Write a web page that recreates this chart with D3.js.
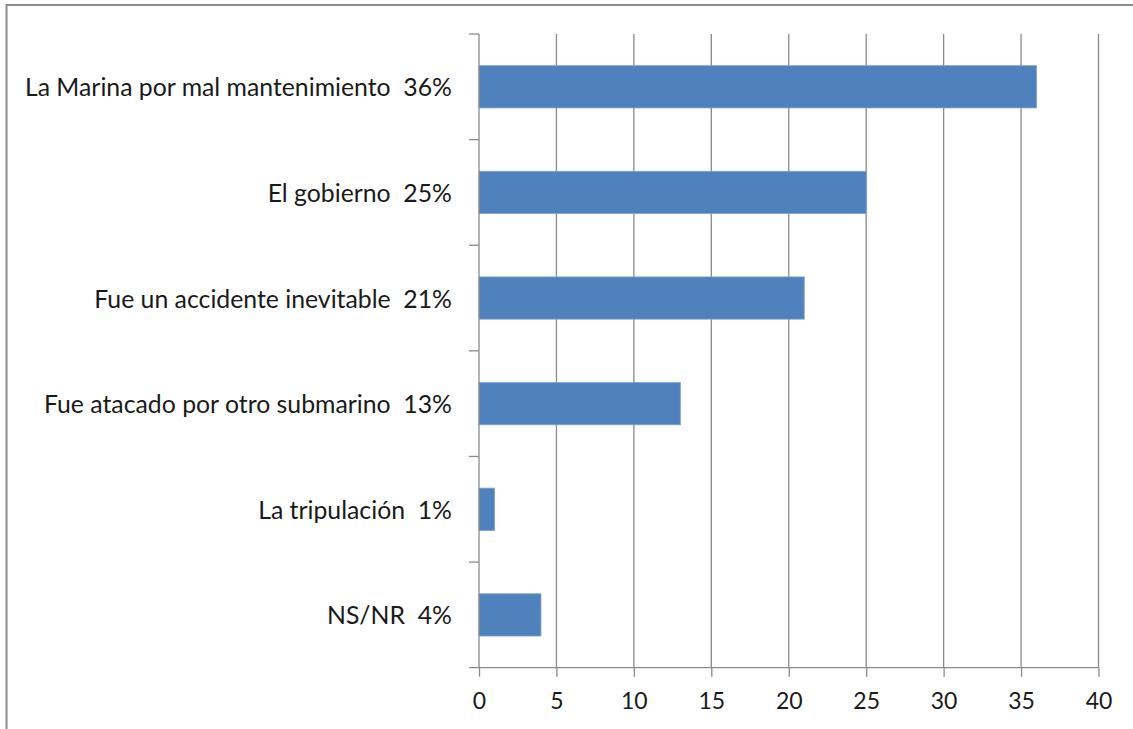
<!DOCTYPE html>
<html><head><meta charset="utf-8">
<script src="https://cdn.jsdelivr.net/npm/d3@7"></script>
<style>
html,body{margin:0;padding:0;background:#fff;}
svg{display:block;}
</style></head>
<body>
<svg id="chart" width="1133" height="729"></svg>
<script>
const categories = ["La Marina por mal mantenimiento  36%", "El gobierno  25%", "Fue un accidente inevitable  21%", "Fue atacado por otro submarino  13%", "La tripulación  1%", "NS/NR  4%"];
const values = [36, 25, 21, 13, 1, 4];
const xTicks = [0, 5, 10, 15, 20, 25, 30, 35, 40];

const svg = d3.select("#chart");
const W = 1133, H = 729;
const m = {left: 479, right: 34.5, top: 34, bottom: 61.3};
const font = "Lato, 'Open Sans', sans-serif";

// outer frame
svg.append("rect").attr("x", 6.5).attr("y", 5).attr("width", 1140).attr("height", 740)
  .attr("fill", "#fff").attr("stroke", "#8c8c8c").attr("stroke-width", 2);

const x = d3.scaleLinear().domain([0, 40]).range([m.left, W - m.right]);
const y = d3.scaleBand().domain(categories).range([m.top, H - m.bottom]).paddingInner(0.6).paddingOuter(0.3);
const yEdges = d3.scaleLinear().domain([0, categories.length]).range([m.top, H - m.bottom]);

// gridlines
svg.append("g").selectAll("line").data(xTicks.slice(1)).join("line")
  .attr("x1", d => x(d)).attr("x2", d => x(d))
  .attr("y1", m.top).attr("y2", H - m.bottom)
  .attr("stroke", "#8a8a8a").attr("stroke-width", 1.3);

// bars
svg.append("g").selectAll("rect").data(values).join("rect")
  .attr("x", x(0)).attr("y", (d, i) => y(categories[i]))
  .attr("width", d => x(d) - x(0)).attr("height", y.bandwidth())
  .attr("fill", "#4f81bd").attr("stroke", "#7ea2cf").attr("stroke-width", 0.8);

// x axis
const xAxis = d3.axisBottom(x).tickValues(xTicks).tickSize(9).tickSizeOuter(0).tickPadding(16);
const gx = svg.append("g").attr("transform", `translate(0,${H - m.bottom})`).call(xAxis);
gx.select(".domain").remove();
gx.append("line").attr("x1", m.left - 10).attr("x2", x(40)).attr("y1", 0).attr("y2", 0)
  .attr("stroke", "#8a8a8a").attr("stroke-width", 1.3);
gx.selectAll(".tick line").attr("stroke", "#8a8a8a").attr("stroke-width", 1.3);
gx.selectAll(".tick text").attr("font-family", font).attr("font-size", 23).attr("fill", "#1a1a1a");

// y axis line and ticks at band edges
svg.append("line").attr("x1", m.left).attr("x2", m.left).attr("y1", m.top).attr("y2", H - m.bottom)
  .attr("stroke", "#8a8a8a").attr("stroke-width", 1.3);
svg.append("g").selectAll("line").data(d3.range(categories.length)).join("line")
  .attr("x1", m.left - 10).attr("x2", m.left)
  .attr("y1", d => yEdges(d)).attr("y2", d => yEdges(d))
  .attr("stroke", "#8a8a8a").attr("stroke-width", 1.3);

// category labels
svg.append("g").selectAll("text").data(categories).join("text")
  .attr("x", 452).attr("y", d => y(d) + y.bandwidth() / 2)
  .attr("text-anchor", "end").attr("dominant-baseline", "central")
  .attr("font-family", font).attr("font-size", 24.8).attr("fill", "#1a1a1a")
  .style("white-space", "pre")
  .text(d => d);
</script>
</body></html>
